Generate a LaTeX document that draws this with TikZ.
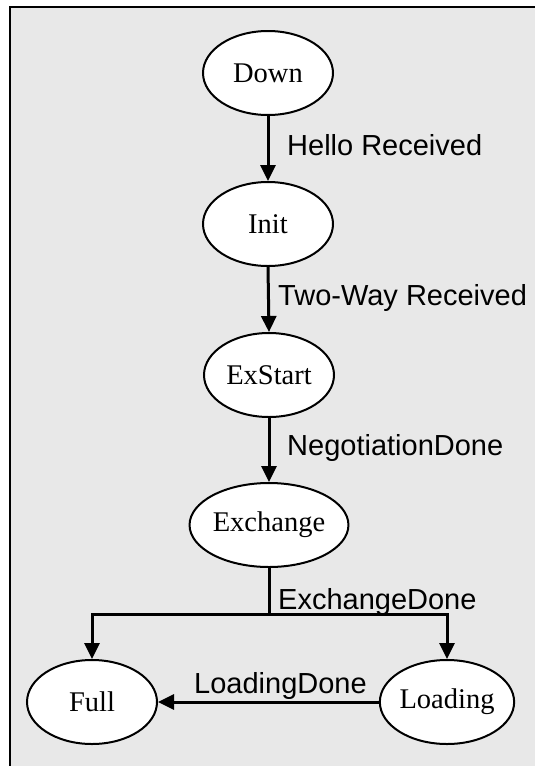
\documentclass[tikz,border=0pt]{standalone}
\usepackage{fontspec}
\setmainfont{Liberation Serif}
\newfontfamily\labfont{Liberation Sans}
\usetikzlibrary{arrows.meta,shapes.geometric}
\tikzset{
  state/.style={ellipse, draw=black, line width=2pt, fill=white, minimum width=130pt, minimum height=84pt, inner sep=0pt, font=\fontsize{28.5}{30}\selectfont},
  lbl/.style={anchor=base west, inner sep=0pt, font=\labfont\fontsize{29}{31}\selectfont},
  conn/.style={line width=3pt, -{Triangle[length=16pt,width=15pt]}},
  plain/.style={line width=3pt}
}
\begin{document}
\begin{tikzpicture}[x=1pt,y=-1pt]
\useasboundingbox (0,0) rectangle (535,766);
\clip (0,0) rectangle (535,766);
\fill[white] (0,0) rectangle (535,766);
\draw[line width=2pt, fill={rgb,255:red,232;green,232;blue,232}] (10,7) rectangle (545,780);
\node[state] (down) at (268,73) {Down};
\node[state] (init) at (268,224) {Init};
\node[state] (exstart) at (269,375) {ExStart};
\node[state] (exchange) at (269,525) {Exchange};
\node[state] (full) at (92,702) {Full};
\node[state] (loading) at (447,702) {Loading};
\coordinate (split) at (269,614);
\draw[conn] (down.south) -- (init.north);
\draw[conn] (init.south) -- (exstart.north);
\draw[conn] (exstart.south) -- (exchange.north);
\draw[plain] (exchange.south) -- (split);
\draw[conn] (split) -| (full.north);
\draw[conn] (split) -| (loading.north);
\draw[conn] (loading.west) -- (full.east);
\node[lbl] (l1) at (287,155) {Hello Received};
\node[lbl] (l2) at (278,305) {Two-Way Received};
\node[lbl] (l3) at (287,455) {NegotiationDone};
\node[lbl] (l4) at (278,609) {ExchangeDone};
\node[lbl] (l5) at (194,693) {LoadingDone};
\end{tikzpicture}
\end{document}
